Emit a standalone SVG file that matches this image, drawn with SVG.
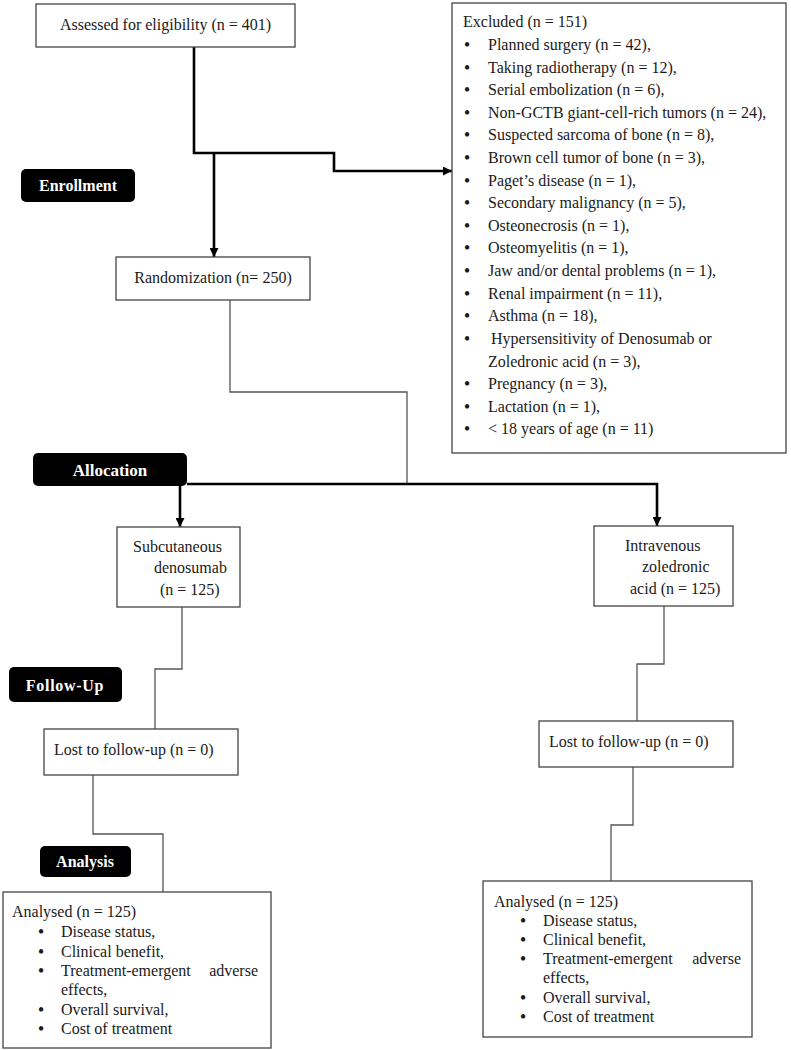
<svg xmlns="http://www.w3.org/2000/svg" width="791" height="1050" viewBox="0 0 791 1050">
<defs>
<style>
.box{fill:#fff;stroke:#444;stroke-width:1.3}
.lbl{fill:#000;stroke:none}
.t{font-family:"Liberation Serif","Times New Roman",serif;font-size:16px;fill:#1a1a1a}
.b{font-family:"Liberation Serif","Times New Roman",serif;font-size:16px;font-weight:bold;fill:#1a1a1a;text-anchor:middle}
.lt{font-family:"Liberation Serif","Times New Roman",serif;font-size:16px;font-weight:bold;fill:#fff;text-anchor:middle}
.thick{fill:none;stroke:#000;stroke-width:2.6}
.thin{fill:none;stroke:#555;stroke-width:1.3}
.mid{text-anchor:middle}
</style>
<marker id="arr" viewBox="0 0 10 10" refX="10" refY="5" markerWidth="9" markerHeight="9" markerUnits="userSpaceOnUse" orient="auto">
<path d="M0,0 L10,5 L0,10 z" fill="#000"/>
</marker>
</defs>
<rect width="791" height="1050" fill="#fff"/>

<g id="connectors">
<path class="thick" d="M194,47 V153 H334 V171 H452" marker-end="url(#arr)"/>
<path class="thick" d="M214,153 V257" marker-end="url(#arr)"/>
<path class="thin" d="M230,300 V392 H407 V484"/>
<path class="thick" d="M187,484 H657 V526" marker-end="url(#arr)"/>
<path class="thick" d="M180,486 V527" marker-end="url(#arr)"/>
<path class="thin" d="M182,607 V669 H155 V729"/>
<path class="thin" d="M664,606 V664 H637 V721"/>
<path class="thin" d="M93,775 V834 H163 V892"/>
<path class="thin" d="M633,767 V825 H611 V881"/>
</g>

<g id="assessed">
<rect class="box" x="36" y="4" width="259" height="43"/>
<text class="t mid" x="165.5" y="30">Assessed for eligibility (n = 401)</text>
</g>

<g id="excluded">
<rect class="box" x="452" y="3" width="334" height="450"/>
<text class="t" x="463" y="27">Excluded (n = 151)</text>
<g class="b">
<text x="467" y="50">•</text>
<text x="467" y="73">•</text>
<text x="467" y="95">•</text>
<text x="467" y="118">•</text>
<text x="467" y="140">•</text>
<text x="467" y="163">•</text>
<text x="467" y="186">•</text>
<text x="467" y="208">•</text>
<text x="467" y="231">•</text>
<text x="467" y="253">•</text>
<text x="467" y="276">•</text>
<text x="467" y="299">•</text>
<text x="467" y="321">•</text>
<text x="467" y="344">•</text>
<text x="467" y="389">•</text>
<text x="467" y="412">•</text>
<text x="467" y="434">•</text>
</g>
<text class="t" x="488" y="50">Planned surgery (n = 42),</text>
<text class="t" x="488" y="73">Taking radiotherapy (n = 12),</text>
<text class="t" x="488" y="95">Serial embolization (n = 6),</text>
<text class="t" x="488" y="118">Non-GCTB giant-cell-rich tumors (n = 24),</text>
<text class="t" x="488" y="140">Suspected sarcoma of bone (n = 8),</text>
<text class="t" x="488" y="163">Brown cell tumor of bone (n = 3),</text>
<text class="t" x="488" y="186">Paget’s disease (n = 1),</text>
<text class="t" x="488" y="208">Secondary malignancy (n = 5),</text>
<text class="t" x="488" y="231">Osteonecrosis (n = 1),</text>
<text class="t" x="488" y="253">Osteomyelitis (n = 1),</text>
<text class="t" x="488" y="276">Jaw and/or dental problems (n = 1),</text>
<text class="t" x="488" y="299">Renal impairment (n = 11),</text>
<text class="t" x="488" y="321">Asthma (n = 18),</text>
<text class="t" x="491" y="344">Hypersensitivity of Denosumab or</text>
<text class="t" x="488" y="367">Zoledronic acid (n = 3),</text>
<text class="t" x="488" y="389">Pregnancy (n = 3),</text>
<text class="t" x="488" y="412">Lactation (n = 1),</text>
<text class="t" x="488" y="434">&lt; 18 years of age (n = 11)</text>
</g>

<g id="enrollment">
<rect class="lbl" x="21" y="169" width="114" height="33" rx="5"/>
<text class="lt" x="78" y="191">Enrollment</text>
</g>

<g id="randomization">
<rect class="box" x="116" y="257" width="194" height="43"/>
<text class="t mid" x="213" y="283">Randomization (n= 250)</text>
</g>

<g id="allocation">
<rect class="lbl" x="33" y="453" width="154" height="33" rx="5"/>
<text class="lt" x="110" y="476" style="font-size:17px">Allocation</text>
</g>

<g id="subcutaneous">
<rect class="box" x="117" y="527" width="123" height="80"/>
<text class="t" x="133" y="552">Subcutaneous</text>
<text class="t" x="154" y="573">denosumab</text>
<text class="t" x="160" y="595">(n = 125)</text>
</g>

<g id="intravenous">
<rect class="box" x="594" y="526" width="139" height="80"/>
<text class="t" x="625" y="551">Intravenous</text>
<text class="t" x="642" y="572">zoledronic</text>
<text class="t" x="630" y="594">acid (n = 125)</text>
</g>

<g id="followup">
<rect class="lbl" x="9" y="667" width="113" height="35" rx="5"/>
<text class="lt" x="65" y="691" style="letter-spacing:0.7px">Follow-Up</text>
</g>

<g id="lost-left">
<rect class="box" x="44" y="729" width="194" height="46"/>
<text class="t" x="54" y="755">Lost to follow-up (n = 0)</text>
</g>

<g id="lost-right">
<rect class="box" x="539" y="721" width="194" height="46"/>
<text class="t" x="549" y="747">Lost to follow-up (n = 0)</text>
</g>

<g id="analysis">
<rect class="lbl" x="40" y="846" width="91" height="31" rx="5"/>
<text class="lt" x="85" y="867">Analysis</text>
</g>

<g id="analysed-left">
<rect class="box" x="3" y="892" width="268" height="156"/>
<text class="t" x="12" y="917">Analysed (n = 125)</text>
<g class="b">
<text x="41" y="937">•</text>
<text x="41" y="957">•</text>
<text x="41" y="976">•</text>
<text x="41" y="1015">•</text>
<text x="41" y="1034">•</text>
</g>
<text class="t" x="61" y="937">Disease status,</text>
<text class="t" x="61" y="957">Clinical benefit,</text>
<text class="t" x="61" y="976">Treatment-emergent<tspan x="258" text-anchor="end">adverse</tspan></text>
<text class="t" x="61" y="995">effects,</text>
<text class="t" x="61" y="1015">Overall survival,</text>
<text class="t" x="61" y="1034">Cost of treatment</text>
</g>

<g id="analysed-right">
<rect class="box" x="483" y="881" width="269" height="156"/>
<text class="t" x="494" y="907">Analysed (n = 125)</text>
<g class="b">
<text x="523" y="926">•</text>
<text x="523" y="945">•</text>
<text x="523" y="964">•</text>
<text x="523" y="1003">•</text>
<text x="523" y="1022">•</text>
</g>
<text class="t" x="543" y="926">Disease status,</text>
<text class="t" x="543" y="945">Clinical benefit,</text>
<text class="t" x="543" y="964">Treatment-emergent<tspan x="741" text-anchor="end">adverse</tspan></text>
<text class="t" x="543" y="983">effects,</text>
<text class="t" x="543" y="1003">Overall survival,</text>
<text class="t" x="543" y="1022">Cost of treatment</text>
</g>
</svg>
